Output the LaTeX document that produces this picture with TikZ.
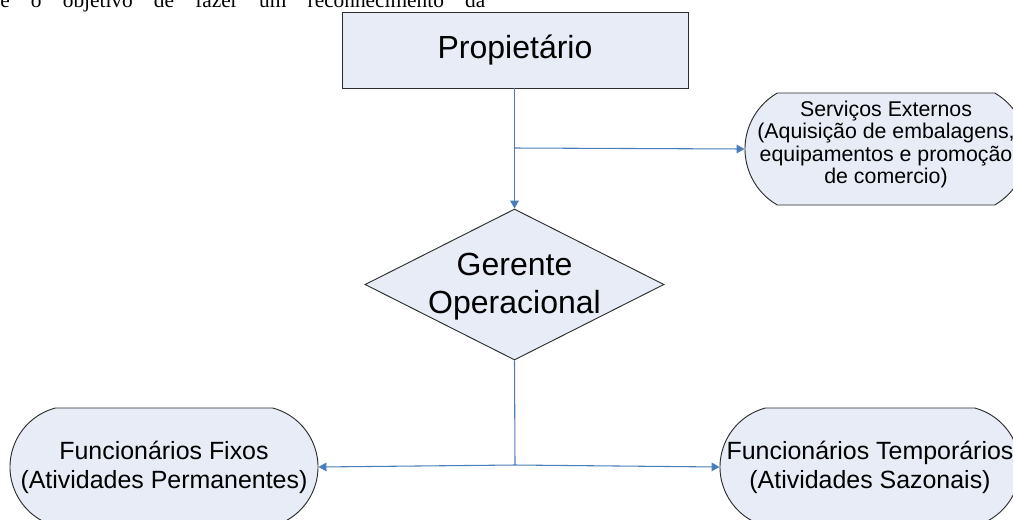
\documentclass[tikz,border=0pt]{standalone}
\usepackage{fontspec}
\setmainfont{Liberation Sans}
\newfontfamily\bodyserif{Liberation Serif}
\usetikzlibrary{shapes.geometric,shapes.misc,arrows.meta}
\definecolor{boxfill}{RGB}{231,236,247}
\definecolor{linkblue}{RGB}{74,126,187}
\definecolor{edgegray}{RGB}{45,45,45}
\newcommand{\zerobox}[2]{\raisebox{#1}[0pt][0pt]{\makebox[0pt]{\begin{tabular}[b]{@{}c@{}}#2\end{tabular}}}}
\begin{document}
\begin{tikzpicture}[x=0.75pt,y=-0.75pt,
  shapebase/.style={draw=edgegray, fill=boxfill, line width=0.7pt, inner sep=0pt, align=center},
  rectbox/.style={shapebase, rectangle, font={\fontsize{24}{28.5}\selectfont}},
  decisionbox/.style={shapebase, diamond, font={\fontsize{24}{28.5}\selectfont}},
  termsmall/.style={shapebase, rounded rectangle, rounded rectangle arc length=120, font={\fontsize{16}{16.9}\selectfont}},
  termbig/.style={shapebase, rounded rectangle, rounded rectangle arc length=150, font={\fontsize{18.7}{21.75}\selectfont}},
  conn/.style={draw=linkblue, line width=0.8pt, -{Triangle[length=6pt,width=6.5pt]}},
  connplain/.style={draw=linkblue, line width=0.8pt}
]
\useasboundingbox (0,0) rectangle (1013,519);
\clip (0,0) rectangle (1013,519);
\fill[white] (0,0) rectangle (1013,519);

\node[anchor=base west, inner sep=0pt, font={\bodyserif\fontsize{16}{19}\selectfont}] (toptext) at (0,7)
  {\makebox[363.75pt][s]{e o objetivo de fazer um reconhecimento da}};

\node[rectbox, minimum width=259.5pt, minimum height=57pt] (prop) at (515,50) {Propietário};

\node[decisionbox, minimum width=224.25pt, minimum height=113.25pt] (ger) at (514.5,284.5)
  {\zerobox{-22.1pt}{Gerente\\Operacional}};

\node[termsmall, minimum width=211.5pt, minimum height=84pt] (serv) at (886,149)
  {\zerobox{-26.2pt}{Serviços Externos\\(Aquisição de embalagens,\\equipamentos e promoção\\de comercio)}};

\node[termbig, minimum width=231pt, minimum height=88.5pt] (fix) at (164,467)
  {Funcionários Fixos\\(Atividades Permanentes)};

\node[termbig, minimum width=225pt, minimum height=88.5pt] (tmp) at (870,467)
  {Funcionários Temporários\\(Atividades Sazonais)};

\coordinate (br) at (514.5,148);
\coordinate (jn) at (515,465);

\draw[conn] (prop.south -| br) -- (ger.north);
\draw[conn] (br) -- (serv.west);
\draw[connplain] (ger.south) -- (jn);
\draw[conn] (jn) -- (fix.east);
\draw[conn] (jn) -- (tmp.west);
\end{tikzpicture}
\end{document}
